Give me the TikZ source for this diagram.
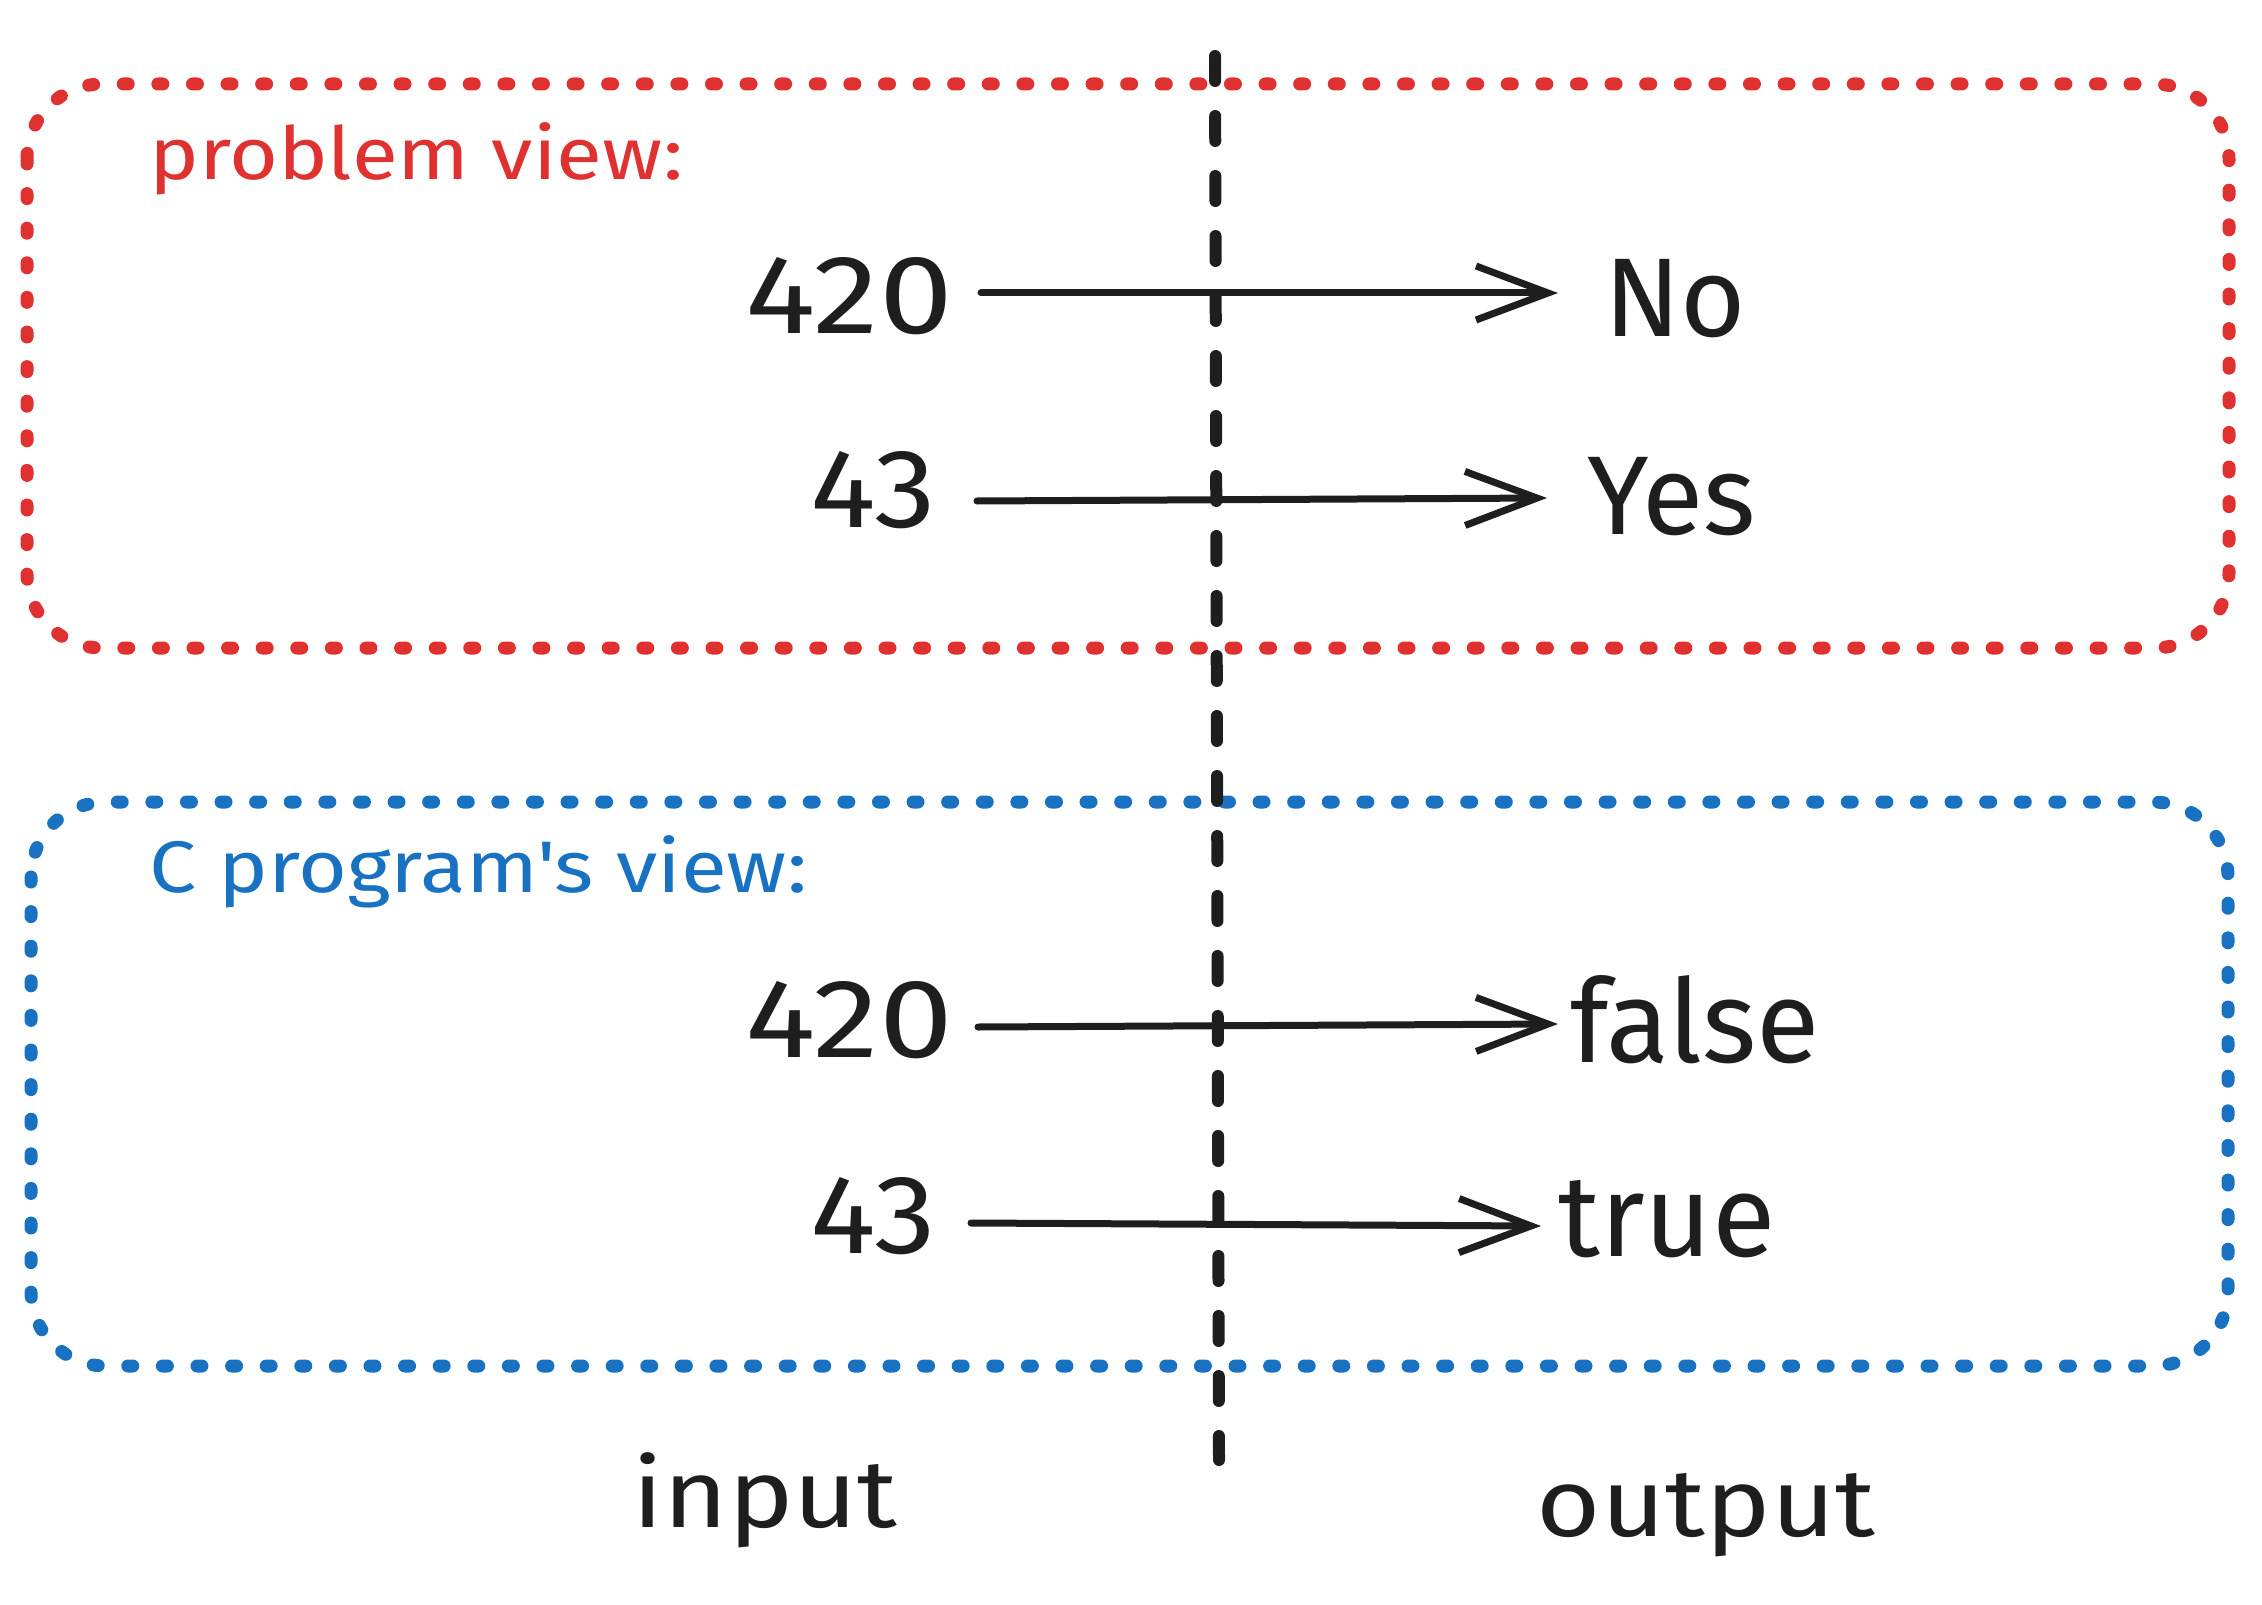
\documentclass[tikz,border=0pt]{standalone}
\usepackage{fontspec}
\setmainfont{Fira Sans}
\newfontfamily\widefont[FakeStretch=1.15]{Fira Sans}
\newfontfamily\numfont[FakeStretch=1.18]{Fira Sans}
\newfontfamily\shortnumfont[FakeStretch=1.1]{Fira Sans}
\usetikzlibrary{arrows.meta}
\definecolor{exred}{HTML}{E03131}
\definecolor{exblue}{HTML}{1971C2}
\definecolor{exink}{HTML}{1E1E1E}
\tikzset{
  dotbox/.style={line width=13pt, line cap=round, dash pattern=on 5pt off 29.6pt, rounded corners=75pt},
  divider/.style={exink, line width=12pt, line cap=round, dash pattern=on 25pt off 35pt},
  big/.style={exink, inner sep=0pt, font=\fontsize{112}{120}\selectfont},
  bignum/.style={big, font=\numfont\fontsize{112}{120}\selectfont},
  shortnum/.style={big, font=\shortnumfont\fontsize{112}{120}\selectfont},
  title/.style={inner sep=0pt, anchor=west, font=\widefont\fontsize{73}{80}\selectfont},
  foot/.style={exink, inner sep=0pt, font=\widefont\fontsize{96}{100}\selectfont},
  arr/.style={exink, line width=7pt, line cap=round, -{Straight Barb[length=72pt, width=54pt, line width=7pt]}},
}
\begin{document}
\begin{tikzpicture}[x=1pt, y=-1pt]
\useasboundingbox (0,0) rectangle (2262,1605);
% boxes
\draw[dotbox, exred] (27,84) rectangle (2229,648);
\draw[dotbox, exblue] (31,802) rectangle (2228,1366);
% divider
\coordinate (dtop) at (1215,56);
\coordinate (dbot) at (1219,1460);
\draw[divider] (dtop) -- (dbot);
% titles
\node[title, text=exred] (tprob) at (149,159) {problem view:};
\node[title, text=exblue] (tprog) at (149,872) {C program's view:};
% problem view rows
\node[bignum, anchor=east] (a1) at (953,296) {420};
\node[big, anchor=west] (b1) at (1604,299) {No};
\node[shortnum, anchor=east] (a2) at (936,490) {43};
\node[big, anchor=west] (b2) at (1587,497) {Yes};
% program view rows
\node[bignum, anchor=east] (a3) at (953,1020) {420};
\node[big, anchor=west, font=\fontsize{116}{120}\selectfont] (b3) at (1570,1020) {false};
\node[shortnum, anchor=east] (a4) at (936,1216) {43};
\node[big, anchor=west, font=\fontsize{116}{120}\selectfont] (b4) at (1558,1219) {true};
% arrows
\draw[arr] ([xshift=28pt,yshift=3pt]a1.east) -- ([xshift=-46pt,yshift=6pt]b1.west);
\draw[arr] ([xshift=41pt,yshift=-11pt]a2.east) -- ([xshift=-40pt,yshift=-1pt]b2.west);
\draw[arr] ([xshift=25pt,yshift=-7pt]a3.east) -- ([xshift=-12pt,yshift=-4pt]b3.west);
\draw[arr] ([xshift=35pt,yshift=-7pt]a4.east) -- ([xshift=-17pt,yshift=-7pt]b4.west);
% footer
\node[foot] (inp) at (765,1500) {input};
\node[foot] (outp) at (1706,1515) {output};
\end{tikzpicture}
\end{document}
